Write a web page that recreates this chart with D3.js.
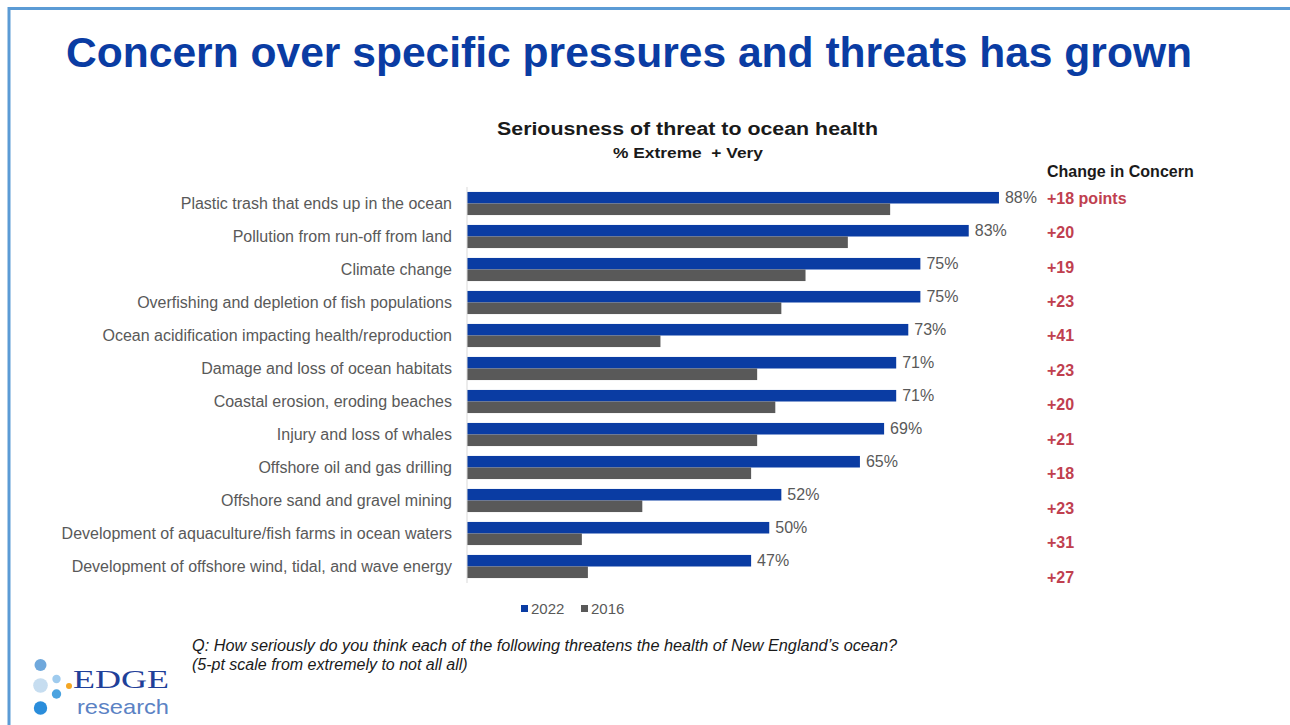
<!DOCTYPE html>
<html>
<head>
<meta charset="utf-8">
<script src="https://cdn.jsdelivr.net/npm/d3@7"></script>
<style>
  body { margin: 0; background: #fff; }
  svg { display: block; font-family: "Liberation Sans", Arial, sans-serif; }
</style>
</head>
<body>
<svg id="chart" width="1290" height="725"></svg>
<script>
const categories = [
  "Plastic trash that ends up in the ocean",
  "Pollution from run-off from land",
  "Climate change",
  "Overfishing and depletion of fish populations",
  "Ocean acidification impacting health/reproduction",
  "Damage and loss of ocean habitats",
  "Coastal erosion, eroding beaches",
  "Injury and loss of whales",
  "Offshore oil and gas drilling",
  "Offshore sand and gravel mining",
  "Development of aquaculture/fish farms in ocean waters",
  "Development of offshore wind, tidal, and wave energy"
];
const values2022 = [88, 83, 75, 75, 73, 71, 71, 69, 65, 52, 50, 47];
const values2016 = [70, 63, 56, 52, 32, 48, 51, 48, 47, 29, 19, 20];
const changeLabels = ["+18 points", "+20", "+19", "+23", "+41", "+23", "+20", "+21", "+18", "+23", "+31", "+27"];
const seriesNames = ["2022", "2016"];
const seriesColors = ["#0a3ca3", "#595959"];

const svg = d3.select("#chart");

// slide frame
svg.append("path")
  .attr("d", "M9,725 V8.5 H1290")
  .attr("fill", "none")
  .attr("stroke", "#5b9bd5")
  .attr("stroke-width", 3);

svg.append("text")
  .text("Concern over specific pressures and threats has grown")
  .attr("x", 66)
  .attr("y", 67)
  .attr("textLength", 1126)
  .attr("lengthAdjust", "spacingAndGlyphs")
  .attr("fill", "#0a3ca3")
  .style("font-weight", "bold")
  .style("font-size", "42px");

svg.append("text")
  .text("Seriousness of threat to ocean health")
  .attr("x", 497)
  .attr("y", 135)
  .attr("textLength", 381)
  .attr("lengthAdjust", "spacingAndGlyphs")
  .attr("fill", "#1a1a1a")
  .style("font-weight", "bold")
  .style("font-size", "18px");

svg.append("text")
  .text("% Extreme  + Very")
  .attr("x", 613)
  .attr("y", 158)
  .attr("textLength", 150)
  .attr("lengthAdjust", "spacingAndGlyphs")
  .attr("fill", "#1a1a1a")
  .style("font-weight", "bold")
  .style("font-size", "14px")
  .style("white-space", "pre");

svg.append("text")
  .text("Change in Concern")
  .attr("x", 1047)
  .attr("y", 177)
  .attr("fill", "#1a1a1a")
  .style("font-weight", "bold")
  .style("font-size", "16px");

const x = d3.scaleLinear().domain([0, 100]).range([467, 1071.5]);
const y = d3.scaleBand().domain(categories).range([187, 583]).paddingInner(0.3).paddingOuter(0.15);
const ySub = d3.scaleBand().domain(seriesNames).range([0, y.bandwidth()]);
const yChange = d3.scalePoint().domain(categories).range([198, 577]);

const rows = categories.map((c, i) => ({
  name: c,
  vals: [values2022[i], values2016[i]],
  change: changeLabels[i]
}));

// category labels
svg.append("g")
  .selectAll("text")
  .data(rows)
  .join("text")
  .text(d => d.name)
  .attr("x", 452)
  .attr("y", d => y(d.name) + ySub.bandwidth())
  .attr("dy", "0.35em")
  .attr("text-anchor", "end")
  .attr("fill", "#595959")
  .style("font-size", "16px");

// bars
const row = svg.append("g")
  .selectAll("g")
  .data(rows)
  .join("g")
  .attr("transform", d => `translate(0,${y(d.name)})`);

row.selectAll("rect")
  .data(d => d.vals.map((v, i) => ({ series: seriesNames[i], value: v, color: seriesColors[i] })))
  .join("rect")
  .attr("x", x(0))
  .attr("y", d => ySub(d.series))
  .attr("width", d => x(d.value) - x(0))
  .attr("height", ySub.bandwidth())
  .attr("fill", d => d.color);

row.append("text")
  .text(d => d.vals[0] + "%")
  .attr("x", d => x(d.vals[0]) + 6)
  .attr("y", ySub("2022") + ySub.bandwidth() / 2)
  .attr("dy", "0.35em")
  .attr("fill", "#595959")
  .style("font-size", "16px");

// axis line
svg.append("line")
  .attr("x1", x(0))
  .attr("x2", x(0))
  .attr("y1", y.range()[0])
  .attr("y2", y.range()[1])
  .attr("stroke", "#d9d9d9")
  .attr("stroke-width", 1);

// change column
svg.append("g")
  .selectAll("text")
  .data(rows)
  .join("text")
  .text(d => d.change)
  .attr("x", 1047)
  .attr("y", d => yChange(d.name))
  .attr("dy", "0.35em")
  .attr("fill", "#c0404f")
  .style("font-weight", "bold")
  .style("font-size", "16px");

// legend
const legend = svg.append("g")
  .selectAll("g")
  .data(seriesNames)
  .join("g")
  .attr("transform", (d, i) => `translate(${521 + i * 60},609)`);

legend.append("rect")
  .attr("x", 0)
  .attr("y", -4)
  .attr("width", 7)
  .attr("height", 7)
  .attr("fill", (d, i) => seriesColors[i]);

legend.append("text")
  .text(d => d)
  .attr("x", 10)
  .attr("dy", "0.35em")
  .attr("fill", "#595959")
  .style("font-size", "15px");

// question note
const note = svg.append("text")
  .attr("fill", "#1a1a1a")
  .style("font-style", "italic")
  .style("font-size", "16px");
note.append("tspan")
  .attr("x", 192).attr("y", 651)
  .attr("textLength", 705)
  .attr("lengthAdjust", "spacingAndGlyphs")
  .text("Q: How seriously do you think each of the following threatens the health of New England\u2019s ocean?");
note.append("tspan")
  .attr("x", 192).attr("y", 670)
  .text("(5-pt scale from extremely to not all all)");

// logo
const dots = [
  { cx: 40.5, cy: 665, r: 6, c: "#6fa8dc" },
  { cx: 40.5, cy: 685.5, r: 7.3, c: "#c6ddf0" },
  { cx: 56.5, cy: 679, r: 4.2, c: "#9fcbee" },
  { cx: 69, cy: 686, r: 3, c: "#f5a623" },
  { cx: 56.5, cy: 694, r: 4.7, c: "#4ba3e0" },
  { cx: 40.5, cy: 708, r: 6.7, c: "#2a8ddb" }
];
svg.append("g")
  .selectAll("circle")
  .data(dots)
  .join("circle")
  .attr("cx", d => d.cx)
  .attr("cy", d => d.cy)
  .attr("r", d => d.r)
  .attr("fill", d => d.c);

svg.append("text")
  .text("EDGE")
  .attr("x", 73)
  .attr("y", 688)
  .attr("textLength", 96)
  .attr("lengthAdjust", "spacingAndGlyphs")
  .attr("fill", "#1f4099")
  .style("font-family", "'Liberation Serif', serif")
  .style("font-size", "26px");

svg.append("text")
  .text("research")
  .attr("x", 77)
  .attr("y", 714)
  .attr("textLength", 92)
  .attr("lengthAdjust", "spacingAndGlyphs")
  .attr("fill", "#5b82c4")
  .style("font-size", "21px");
</script>
</body>
</html>
